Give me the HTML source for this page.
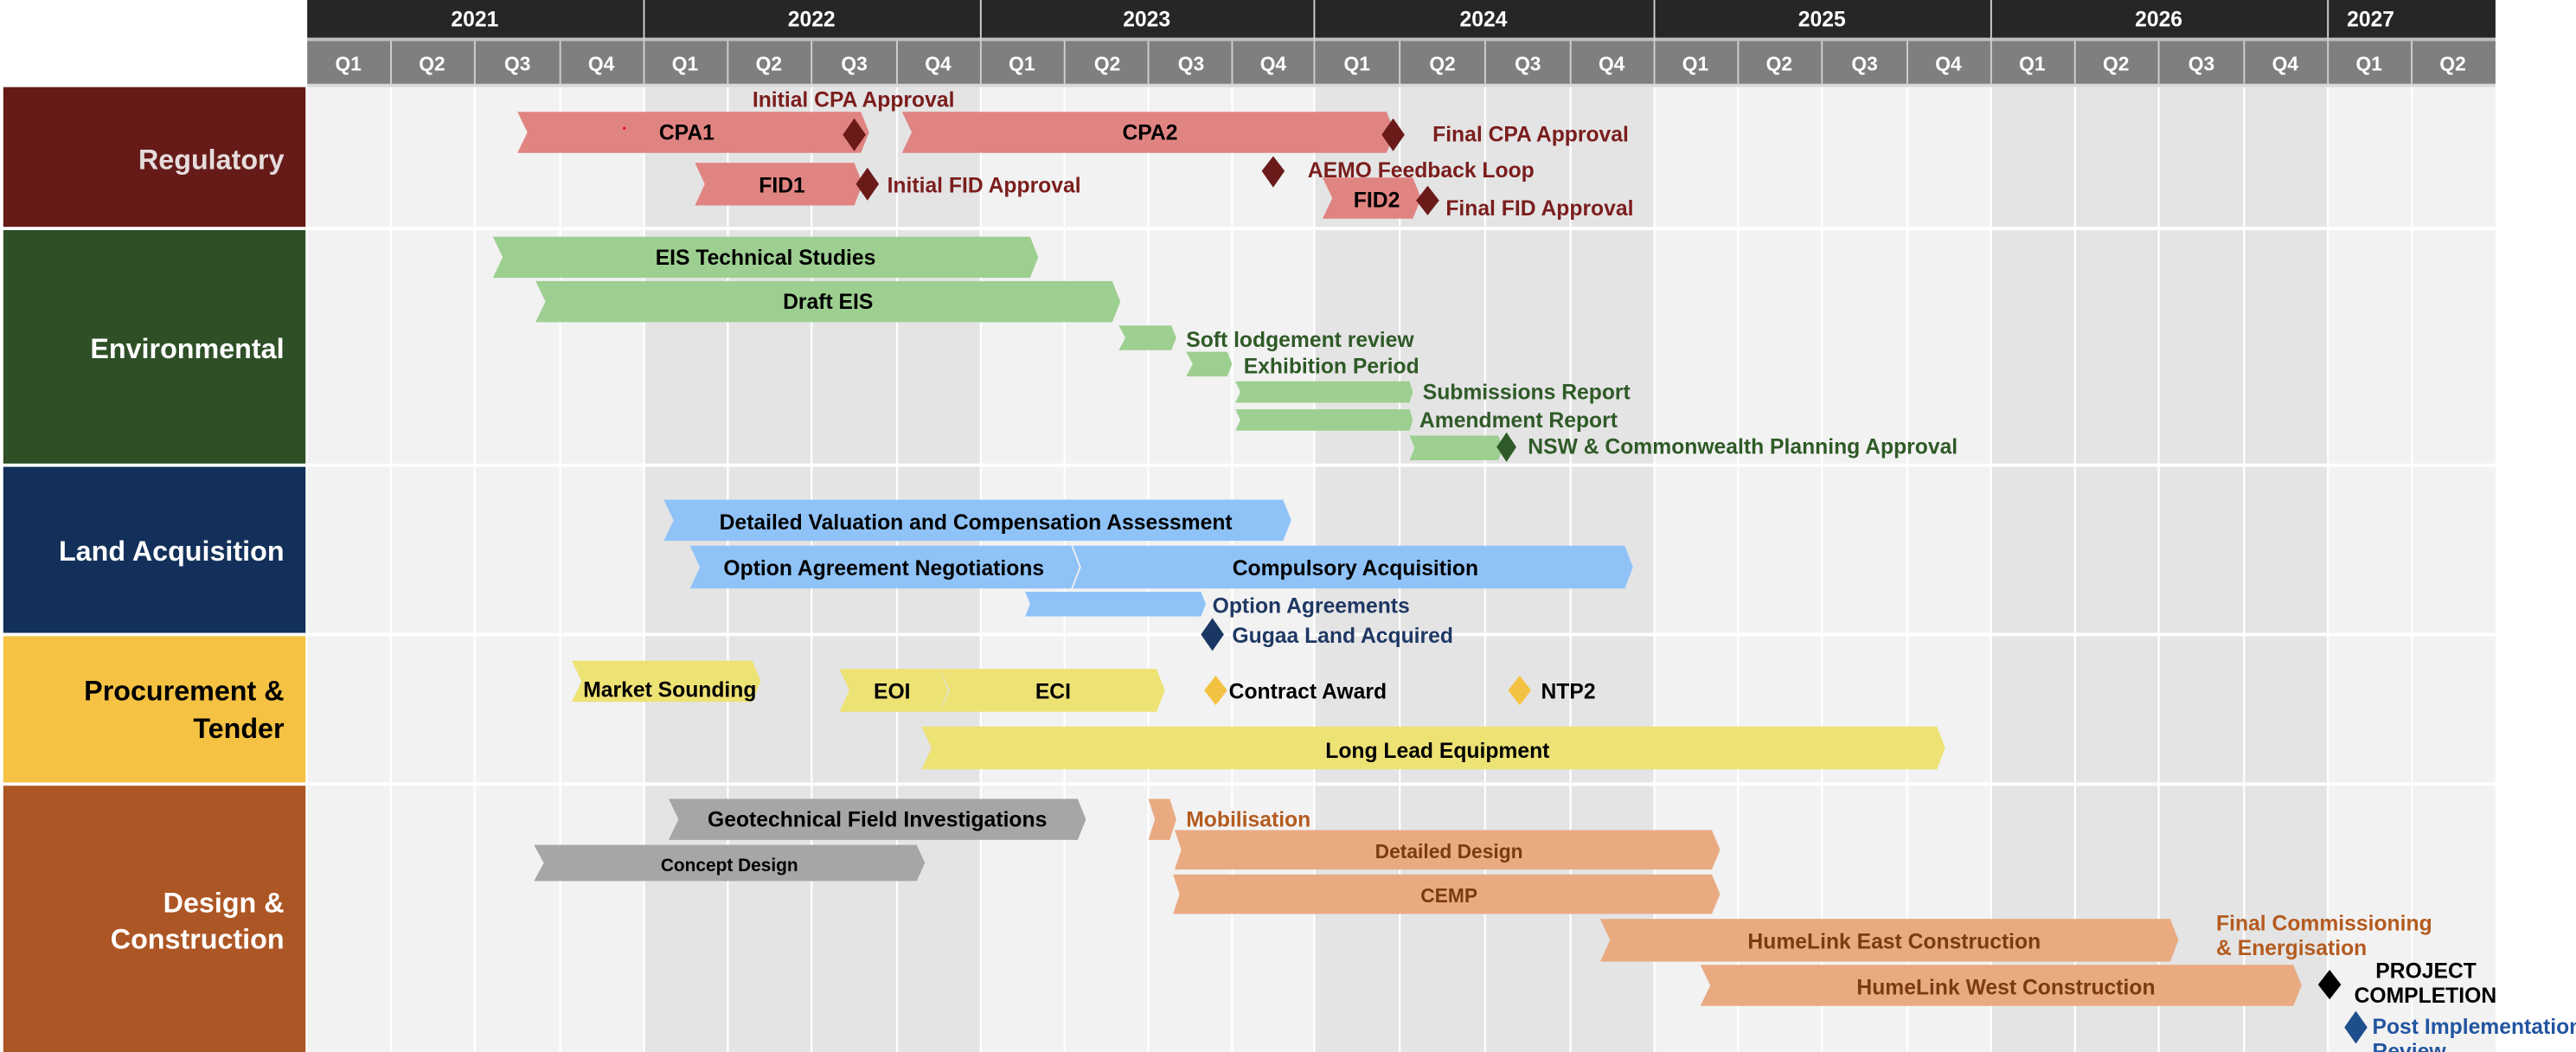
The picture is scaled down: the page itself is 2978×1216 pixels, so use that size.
<!DOCTYPE html>
<html><head><meta charset="utf-8"><style>
html,body{margin:0;padding:0;background:#fff;}
svg{display:block;}
text{font-family:"Liberation Sans",Arial,sans-serif;font-weight:bold;}
</style></head><body>
<svg width="2978" height="1216" viewBox="0 0 1568 640" preserveAspectRatio="none" xmlns="http://www.w3.org/2000/svg">
<rect x="0" y="0" width="1568" height="640" fill="#fff"/>
<!-- chart background -->
<rect x="187" y="53" width="1332" height="587" fill="#f2f2f2"/>
<rect x="392" y="53" width="205" height="587" fill="#e4e4e4"/>
<rect x="800" y="53" width="207" height="587" fill="#e4e4e4"/>
<rect x="1212" y="53" width="205" height="587" fill="#e4e4e4"/>
<g stroke="#fff" stroke-width="1.2">
<line x1="238" y1="53" x2="238" y2="640"/><line x1="289" y1="53" x2="289" y2="640"/><line x1="341" y1="53" x2="341" y2="640"/><line x1="392" y1="53" x2="392" y2="640"/>
<line x1="443" y1="53" x2="443" y2="640"/><line x1="494" y1="53" x2="494" y2="640"/><line x1="546" y1="53" x2="546" y2="640"/><line x1="597" y1="53" x2="597" y2="640"/>
<line x1="648" y1="53" x2="648" y2="640"/><line x1="699" y1="53" x2="699" y2="640"/><line x1="750" y1="53" x2="750" y2="640"/><line x1="800" y1="53" x2="800" y2="640"/>
<line x1="852" y1="53" x2="852" y2="640"/><line x1="904" y1="53" x2="904" y2="640"/><line x1="956" y1="53" x2="956" y2="640"/><line x1="1007" y1="53" x2="1007" y2="640"/>
<line x1="1058" y1="53" x2="1058" y2="640"/><line x1="1109" y1="53" x2="1109" y2="640"/><line x1="1161" y1="53" x2="1161" y2="640"/><line x1="1212" y1="53" x2="1212" y2="640"/>
<line x1="1263" y1="53" x2="1263" y2="640"/><line x1="1314" y1="53" x2="1314" y2="640"/><line x1="1366" y1="53" x2="1366" y2="640"/><line x1="1417" y1="53" x2="1417" y2="640"/>
<line x1="1468" y1="53" x2="1468" y2="640"/>
</g>
<g fill="#fff">
<rect x="0" y="138" width="1519" height="2"/><rect x="0" y="282" width="1519" height="2"/><rect x="0" y="385" width="1519" height="2"/><rect x="0" y="476" width="1519" height="2"/>
</g>
<!-- header -->
<rect x="187" y="0" width="1332" height="23" fill="#262626"/>
<rect x="187" y="23" width="1332" height="2" fill="#bfbfbf"/>
<rect x="187" y="25" width="1332" height="26" fill="#7f7f7f"/>
<g stroke="#d0d0d0" stroke-width="1">
<line x1="392" y1="0" x2="392" y2="51"/><line x1="597" y1="0" x2="597" y2="51"/><line x1="800" y1="0" x2="800" y2="51"/><line x1="1007" y1="0" x2="1007" y2="51"/><line x1="1212" y1="0" x2="1212" y2="51"/><line x1="1417" y1="0" x2="1417" y2="51"/>
<line x1="238" y1="25" x2="238" y2="51"/><line x1="289" y1="25" x2="289" y2="51"/><line x1="341" y1="25" x2="341" y2="51"/>
<line x1="443" y1="25" x2="443" y2="51"/><line x1="494" y1="25" x2="494" y2="51"/><line x1="546" y1="25" x2="546" y2="51"/>
<line x1="648" y1="25" x2="648" y2="51"/><line x1="699" y1="25" x2="699" y2="51"/><line x1="750" y1="25" x2="750" y2="51"/>
<line x1="852" y1="25" x2="852" y2="51"/><line x1="904" y1="25" x2="904" y2="51"/><line x1="956" y1="25" x2="956" y2="51"/>
<line x1="1058" y1="25" x2="1058" y2="51"/><line x1="1109" y1="25" x2="1109" y2="51"/><line x1="1161" y1="25" x2="1161" y2="51"/>
<line x1="1263" y1="25" x2="1263" y2="51"/><line x1="1314" y1="25" x2="1314" y2="51"/><line x1="1366" y1="25" x2="1366" y2="51"/><line x1="1468" y1="25" x2="1468" y2="51"/>
</g>
<rect x="187" y="51" width="1332" height="2" fill="#d9d9d9"/>
<g fill="#fff" font-size="13" text-anchor="middle">
<text x="289" y="16">2021</text><text x="494" y="16">2022</text><text x="698" y="16">2023</text><text x="903" y="16">2024</text><text x="1109" y="16">2025</text><text x="1314" y="16">2026</text><text x="1443" y="16">2027</text>
</g>
<g fill="#fff" font-size="12" text-anchor="middle">
<text x="212" y="43">Q1</text><text x="263" y="43">Q2</text><text x="315" y="43">Q3</text><text x="366" y="43">Q4</text>
<text x="417" y="43">Q1</text><text x="468" y="43">Q2</text><text x="520" y="43">Q3</text><text x="571" y="43">Q4</text>
<text x="622" y="43">Q1</text><text x="674" y="43">Q2</text><text x="725" y="43">Q3</text><text x="775" y="43">Q4</text>
<text x="826" y="43">Q1</text><text x="878" y="43">Q2</text><text x="930" y="43">Q3</text><text x="981" y="43">Q4</text>
<text x="1032" y="43">Q1</text><text x="1083" y="43">Q2</text><text x="1135" y="43">Q3</text><text x="1186" y="43">Q4</text>
<text x="1237" y="43">Q1</text><text x="1288" y="43">Q2</text><text x="1340" y="43">Q3</text><text x="1391" y="43">Q4</text>
<text x="1442" y="43">Q1</text><text x="1493" y="43">Q2</text>
</g>
<!-- category labels -->
<rect x="2" y="53" width="184" height="85" fill="#661b18"/>
<rect x="2" y="140" width="184" height="142" fill="#2f5027"/>
<rect x="2" y="284" width="184" height="101" fill="#12305a"/>
<rect x="2" y="387" width="184" height="89" fill="#f5c243"/>
<rect x="2" y="478" width="184" height="162" fill="#ad5625"/>
<g font-size="17" text-anchor="end">
<text x="173" y="103" fill="#e6dcdc">Regulatory</text>
<text x="173" y="218" fill="#fff">Environmental</text>
<text x="173" y="341" fill="#fff">Land Acquisition</text>
<text x="173" y="426" fill="#000">Procurement &amp;</text>
<text x="173" y="449" fill="#000">Tender</text>
<text x="173" y="555" fill="#fff">Design &amp;</text>
<text x="173" y="577" fill="#fff">Construction</text>
</g>
<!-- Regulatory -->
<g fill="#e08482">
<polygon points="315,68 524,68 529,80.5 524,93 315,93 321,80.5"/>
<polygon points="549,68 844,68 849,80.5 844,93 549,93 555,80.5"/>
<polygon points="423,99 520,99 525,112 520,125 423,125 429,112"/>
<polygon points="805,108 860,108 865,120.5 860,133 805,133 811,120.5"/>
</g>
<circle cx="380" cy="78" r="0.8" fill="#e00"/>
<g fill="#6b1a1a">
<polygon points="520,72 527,82 520,92 513,82"/>
<polygon points="848,72 855,82 848,92 841,82"/>
<polygon points="528,102 535,112 528,122 521,112"/>
<polygon points="775,95 782,104 775,114 768,104"/>
<polygon points="869,113 876,122 869,131 862,122"/>
</g>
<g font-size="13" fill="#000" text-anchor="middle">
<text x="418" y="85">CPA1</text><text x="700" y="85">CPA2</text><text x="476" y="117">FID1</text><text x="838" y="126">FID2</text>
</g>
<g font-size="13" fill="#7b1d1d">
<text x="458" y="65">Initial CPA Approval</text>
<text x="872" y="86">Final CPA Approval</text>
<text x="540" y="117">Initial FID Approval</text>
<text x="796" y="108">AEMO Feedback Loop</text>
<text x="880" y="131">Final FID Approval</text>
</g>
<!-- Environmental -->
<g fill="#9dcf91">
<polygon points="300,144 627,144 632,156.5 627,169 300,169 306,156.5"/>
<polygon points="326,171 677,171 682,183.5 677,196 326,196 332,183.5"/>
<polygon points="681,198 713,198 716,205.5 713,213 681,213 685,205.5"/>
<polygon points="722,214 747,214 750,221.5 747,229 722,229 726,221.5"/>
<polygon points="752,232 858,232 860,238.5 858,245 752,245 755,238.5"/>
<polygon points="752,249 858,249 860,255.5 858,262 752,262 755,255.5"/>
<polygon points="858,265 912,265 915,272.5 912,280 858,280 861,272.5"/>
</g>
<polygon points="917,263 923,272 917,281 911,272" fill="#2e5a27"/>
<g font-size="13" fill="#000" text-anchor="middle">
<text x="466" y="161">EIS Technical Studies</text><text x="504" y="188">Draft EIS</text>
</g>
<g font-size="13" fill="#2f5a27">
<text x="722" y="211">Soft lodgement review</text>
<text x="757" y="227">Exhibition Period</text>
<text x="866" y="243">Submissions Report</text>
<text x="864" y="260">Amendment Report</text>
<text x="930" y="276">NSW &amp; Commonwealth Planning Approval</text>
</g>
<!-- Land -->
<g fill="#8fc3f8">
<polygon points="404,304 781,304 786,316.5 781,329 404,329 410,316.5"/>
<polygon points="420,332 652,332 657,345 652,358 420,358 426,345"/>
<polygon points="653,332 989,332 994,345 989,358 653,358 658,345"/>
<polygon points="624,360 731,360 734,367.5 731,375 624,375 627,367.5"/>
</g>
<polygon points="738,376 745,386 738,396 731,386" fill="#1a3763"/>
<g font-size="13" fill="#000" text-anchor="middle">
<text x="594" y="322">Detailed Valuation and Compensation Assessment</text>
<text x="538" y="350">Option Agreement Negotiations</text>
<text x="825" y="350">Compulsory Acquisition</text>
</g>
<g font-size="13" fill="#1f3864">
<text x="738" y="373">Option Agreements</text>
<text x="750" y="391">Gugaa Land Acquired</text>
</g>
<!-- Procurement -->
<g fill="#ede274">
<polygon points="348,402 458,402 463,414.5 458,427 348,427 354,414.5"/>
<polygon points="511,407 572,407 577,420 572,433 511,433 517,420"/>
<polygon points="572,407 704,407 709,420 704,433 572,433 578,420"/>
<polygon points="561,442 1179,442 1184,455 1179,468 561,468 567,455"/>
</g>
<g fill="#f4c242">
<polygon points="740,411 747,420 740,429 733,420"/>
<polygon points="925,411 932,420 925,429 918,420"/>
</g>
<g font-size="13" fill="#000">
<text x="355" y="424">Market Sounding</text>
<text x="543" y="425" text-anchor="middle">EOI</text>
<text x="641" y="425" text-anchor="middle">ECI</text>
<text x="748" y="425">Contract Award</text>
<text x="938" y="425">NTP2</text>
<text x="875" y="461" text-anchor="middle">Long Lead Equipment</text>
</g>
<!-- Design -->
<g fill="#a6a6a6">
<polygon points="407,486 656,486 661,498.5 656,511 407,511 413,498.5"/>
<polygon points="325,514 558,514 563,525 558,536 325,536 331,525"/>
</g>
<g fill="#e9aa82">
<polygon points="699,486 712,486 716,498.5 712,511 699,511 703,498.5"/>
<polygon points="715,505 1042,505 1047,517 1042,529 715,529 719,517"/>
<polygon points="714,532 1042,532 1047,544 1042,556 714,556 718,544"/>
<polygon points="974,559 1321,559 1326,572 1321,585 974,585 980,572"/>
<polygon points="1035,587 1396,587 1401,599.5 1396,612 1035,612 1041,599.5"/>
</g>
<polygon points="1418,590 1425,599 1418,608 1411,599" fill="#000"/>
<polygon points="1434,615 1441,625 1434,635 1427,625" fill="#1f4e8c"/>
<g font-size="13" fill="#000" text-anchor="middle">
<text x="534" y="503">Geotechnical Field Investigations</text>
</g>
<text x="444" y="530" font-size="11" fill="#000" text-anchor="middle">Concept Design</text>
<g font-size="12" fill="#7a3a12" text-anchor="middle">
<text x="882" y="522">Detailed Design</text>
<text x="882" y="549">CEMP</text>
<text x="1153" y="577" font-size="13">HumeLink East Construction</text>
<text x="1221" y="605" font-size="13">HumeLink West Construction</text>
</g>
<g font-size="13" fill="#b45b1f">
<text x="722" y="503">Mobilisation</text>
<text x="1349" y="566">Final Commissioning</text>
<text x="1349" y="581">&amp; Energisation</text>
</g>
<g font-size="13" fill="#000">
<text x="1446" y="595">PROJECT</text>
<text x="1433" y="610">COMPLETION</text>
</g>
<text x="1444" y="629" font-size="13" fill="#2255a0">Post Implementation</text>
<text x="1444" y="644" font-size="13" fill="#2255a0">Review</text>
</svg>
</body></html>
